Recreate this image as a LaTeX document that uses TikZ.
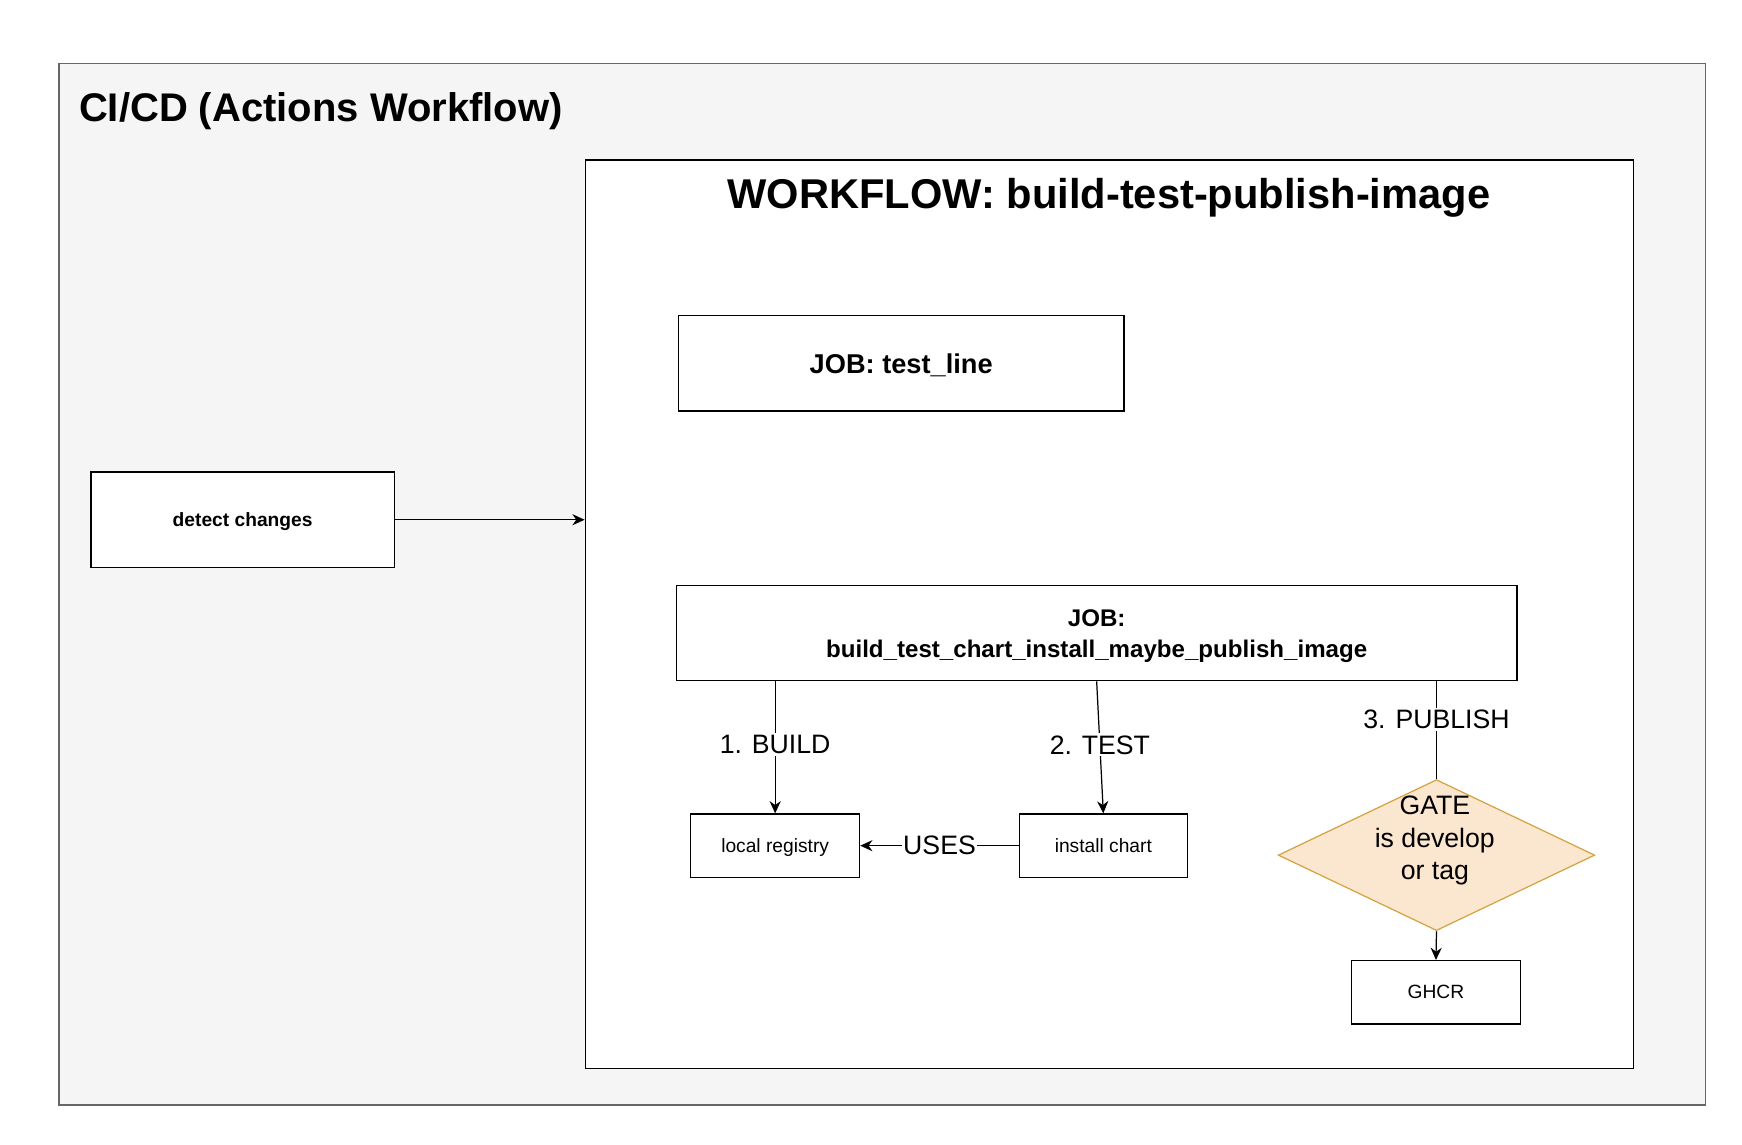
\documentclass[tikz,border=0pt]{standalone}
\usepackage{fontspec}
\setmainfont{Liberation Sans}
\usetikzlibrary{shapes.geometric,arrows.meta}
\definecolor{outerfill}{HTML}{F5F5F5}
\definecolor{outerline}{HTML}{666666}
\definecolor{gatefill}{HTML}{FBE6D0}
\definecolor{gateline}{HTML}{D4A340}
\tikzset{
  box/.style={draw=black, line width=1.2pt, fill=white, rectangle, inner sep=0pt, align=center, text depth=0pt},
  conn/.style={draw=black, line width=1.1pt},
  arr/.style={conn, -{Stealth[length=11pt, width=10pt, inset=3.5pt]}},
  lbl/.style={fill=white, inner sep=2pt, text depth=0pt, font=\fontsize{24}{29}\selectfont},
  smalltxt/.style={font=\fontsize{17.3}{21}\selectfont},
}
\begin{document}
\begin{tikzpicture}[x=1pt, y=-1pt]
\useasboundingbox[fill=white] (0,0) rectangle (1568.6,1030.2);
% outer container
\node[draw=outerline, fill=outerfill, line width=1.2pt, rectangle, inner sep=0pt,
      minimum width=1483pt, minimum height=938pt] (outer) at (794.5,526) {};
\node[anchor=west, inner sep=0pt, font=\fontsize{36}{43}\selectfont\bfseries] (outertitle) at (71,100) {CI/CD (Actions Workflow)};
% workflow container
\node[box, minimum width=944pt, minimum height=818pt] (wf) at (999,553) {};
\node[inner sep=0pt, font=\fontsize{37.5}{45}\selectfont\bfseries] (wftitle) at (998.5,178) {WORKFLOW: build-test-publish-image};
% boxes
\node[box, minimum width=273pt, minimum height=86pt, font=\fontsize{17.3}{21}\selectfont\bfseries] (detect) at (218.5,468) {detect changes};
\node[box, minimum width=401pt, minimum height=86pt, font=\fontsize{24.5}{29}\selectfont\bfseries] (testline) at (811.5,327) {JOB: test\_line};
\node[box, minimum width=757pt, minimum height=86pt] (bigjob) at (987.5,570) {};
\node[inner sep=0pt, align=center, font=\fontsize{21.7}{28}\selectfont\bfseries] (bigjobtxt) at (987.5,573) {JOB:\\build\_test\_chart\_install\_maybe\_publish\_image};
\node[box, smalltxt, minimum width=152pt, minimum height=57pt] (reg) at (698,761.5) {local registry};
\node[box, smalltxt, minimum width=151pt, minimum height=57pt] (inst) at (993.5,761.5) {install chart};
\node[diamond, draw=gateline, fill=gatefill, line width=1.1pt, inner sep=0pt,
      minimum width=285pt, minimum height=136pt] (gate) at (1293.5,770) {};
\node[inner sep=0pt, align=center, font=\fontsize{24}{29.5}\selectfont] (gatetxt) at (1292,757) {GATE\\is develop\\or tag};
\node[box, smalltxt, minimum width=152pt, minimum height=57pt] (ghcr) at (1293,893.5) {GHCR};
% connectors
\draw[arr] (detect.east) -- (detect.east -| wf.west);
\draw[arr] (bigjob.south -| reg.north) -- node[lbl, pos=0.48] {1. BUILD} (reg.north);
\draw[arr] (bigjob.south) -- node[lbl, pos=0.48] {2. TEST} (inst.north);
\draw[conn] (bigjob.south -| gate.north) -- node[lbl, pos=0.39] {3. PUBLISH} (gate.north);
\draw[arr] (inst.west) -- node[lbl, inner sep=1pt] {USES} (reg.east);
\draw[arr] (gate.south) -- (ghcr.north);
\end{tikzpicture}
\end{document}
